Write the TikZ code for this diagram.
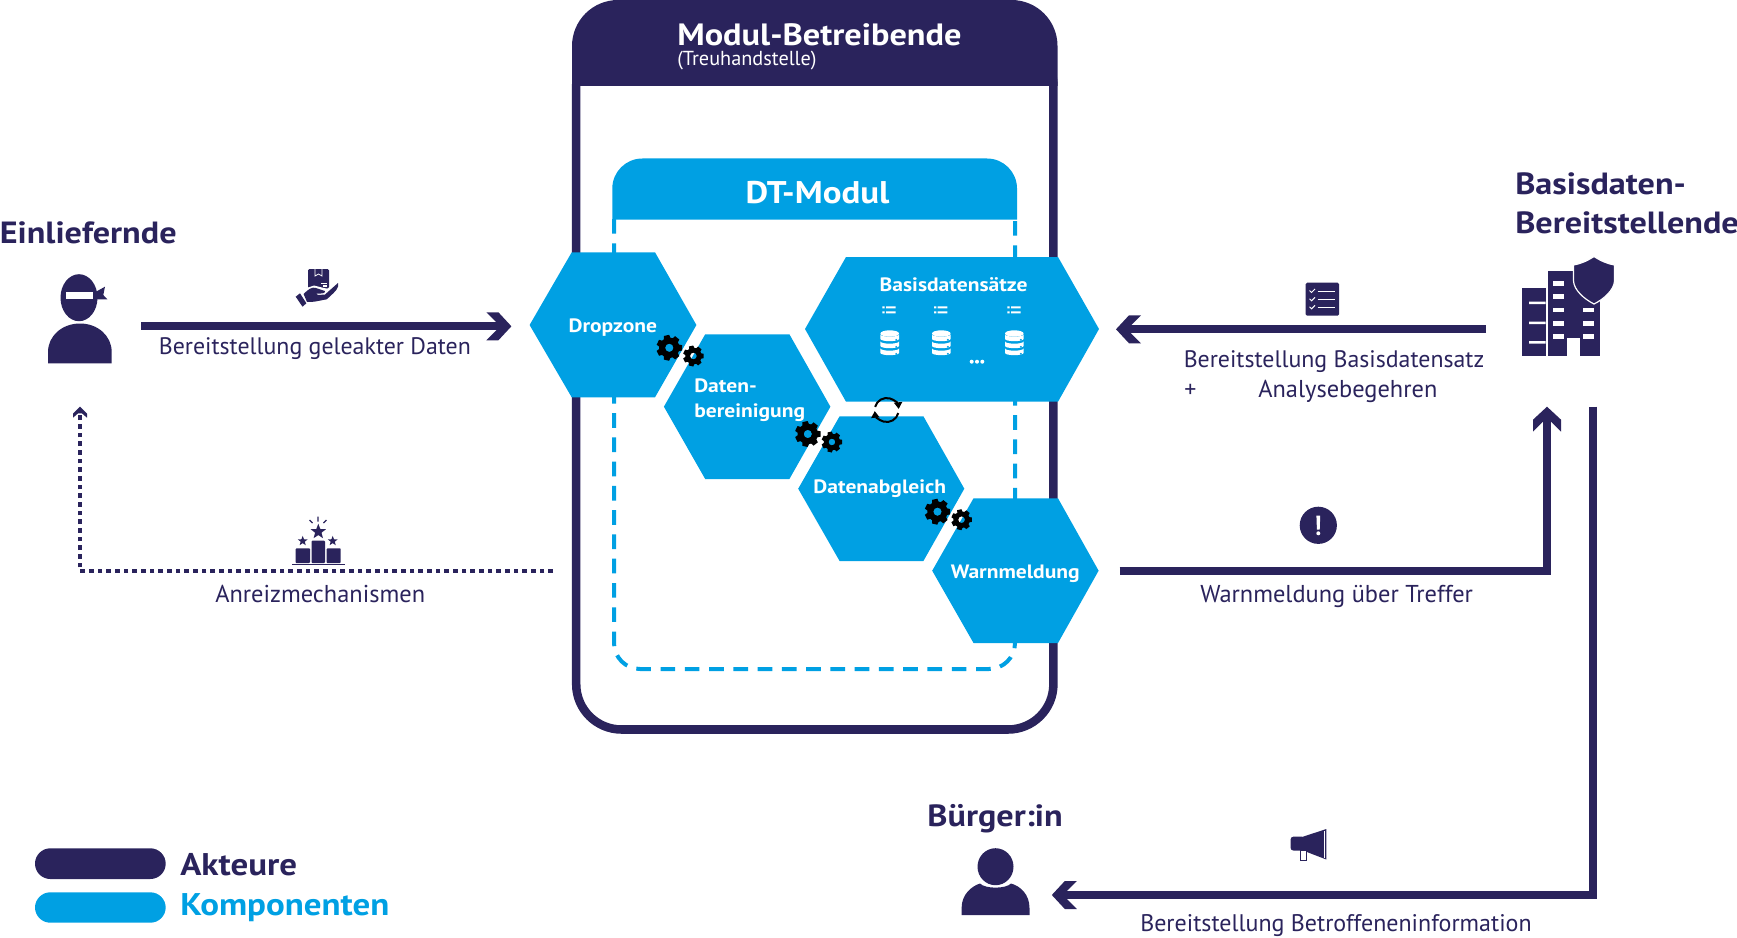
\documentclass[tikz,border=0pt]{standalone}
\usepackage{fontspec}
\setmainfont{PT Sans}[BoldFeatures={FakeStretch=1.115}]
\usetikzlibrary{arrows.meta}
\definecolor{navy}{HTML}{2A235C}
\definecolor{cyanb}{HTML}{00A0E3}
\pgfdeclarearrow{name=ChevBig,
  setup code={\pgfarrowssettipend{0pt}\pgfarrowssetbackend{-18.75pt}\pgfarrowssetlineend{-10.5pt}\pgfarrowssetvisualbackend{-10.5pt}},
  drawing code={\pgfpathmoveto{\pgfqpoint{0pt}{0pt}}\pgfpathlineto{\pgfqpoint{-9.75pt}{10.5pt}}\pgfpathlineto{\pgfqpoint{-18.75pt}{10.5pt}}\pgfpathlineto{\pgfqpoint{-11.25pt}{3pt}}\pgfpathlineto{\pgfqpoint{-11.25pt}{-3pt}}\pgfpathlineto{\pgfqpoint{-18.75pt}{-10.5pt}}\pgfpathlineto{\pgfqpoint{-9.75pt}{-10.5pt}}\pgfpathclose\pgfusepathqfill}}
\pgfdeclarearrow{name=ChevSmall,
  setup code={\pgfarrowssettipend{0pt}\pgfarrowssetbackend{-8.25pt}\pgfarrowssetlineend{-4.5pt}\pgfarrowssetvisualbackend{-4.5pt}},
  drawing code={\pgfpathmoveto{\pgfqpoint{0pt}{0pt}}\pgfpathlineto{\pgfqpoint{-5.25pt}{5.25pt}}\pgfpathlineto{\pgfqpoint{-8.25pt}{5.25pt}}\pgfpathlineto{\pgfqpoint{-5pt}{1.5pt}}\pgfpathlineto{\pgfqpoint{-5pt}{-1.5pt}}\pgfpathlineto{\pgfqpoint{-8.25pt}{-5.25pt}}\pgfpathlineto{\pgfqpoint{-5.25pt}{-5.25pt}}\pgfpathclose\pgfusepathqfill}}
\tikzset{
  lbl/.style={anchor=base west,inner sep=0pt,text=navy,font=\fontsize{17.9}{18}\selectfont},
  lblwide/.style={lbl,font=\fontsize{18.3}{18}\selectfont},
  actor/.style={anchor=base west,inner sep=0pt,text=navy,font=\fontsize{23}{23}\selectfont\bfseries},
  legendlbl/.style={actor,font=\fontsize{23.5}{23}\selectfont\bfseries},
  hexlbl/.style={anchor=base west,inner sep=0pt,text=white,font=\fontsize{14.5}{14.5}\selectfont\bfseries},
  flow/.style={color=navy,line width=6pt,line join=miter,-{ChevBig}},
  incentive/.style={color=navy,line width=3pt,dash pattern=on 3.6pt off 2.9pt,-{ChevSmall}},
  dtborder/.style={draw=cyanb,line width=3pt,dash pattern=on 11pt off 7.2pt},
}
% hexagon: name, left tip x, inner left x, inner right x, right tip x, top y, mid y, bottom y
\newcommand{\hexa}[8]{\fill[cyanb] (#2,#7) -- (#3,#6) -- (#4,#6) -- (#5,#7) -- (#4,#8) -- (#3,#8) -- cycle;\coordinate (#1) at (#3,#7);}
\newcommand{\gearicon}[3]{\begin{scope}[shift={(#1,#2)}]\fill[black,even odd rule] (-12:#3) \foreach \k [evaluate=\k as \a using \k*51.43] in {0,...,6}{ -- ({\a+12}:#3) -- ({\a+19}:{0.78*#3}) -- ({\a+51.43-19}:{0.78*#3}) -- ({\a+51.43-12}:#3)} -- cycle (0,0) circle[radius={0.32*#3}];\end{scope}}
\newcommand{\dband}[1]{(-9.3,#1) -- (-9.3,#1+4.5) .. controls (-9.3,#1+7.5) and (9.3,#1+7.5) .. (9.3,#1+4.5) -- (9.3,#1) .. controls (9.3,#1+3) and (-9.3,#1+3) .. cycle}
\newcommand{\dbicon}[2]{\begin{scope}[shift={(#1,#2)}]\fill[white] (0,-8.5) ellipse[x radius=9.3,y radius=3.2]; \fill[white] \dband{-7.6}; \fill[white] \dband{-0.6}; \fill[white] \dband{6.4};\fill[cyanb] (6.5,-2.2) circle[radius=1] (6.5,4.8) circle[radius=1] (6.5,11.8) circle[radius=1];\end{scope}}
\newcommand{\listicon}[2]{\begin{scope}[shift={(#1,#2)}]\fill[white] (-6.6,-3.6) rectangle (-4.4,-1.6) (-6.6,1.4) rectangle (-4.4,3.4) (-3,-3.6) rectangle (6.6,-1.6) (-3,1.4) rectangle (6.6,3.4);\end{scope}}
\begin{document}
\begin{tikzpicture}[x=.75pt,y=-.75pt]
\useasboundingbox (0,0) rectangle (1737,938);
% Modul-Betreibende frame
\draw[navy,line width=6.4pt,rounded corners=34pt] (576.2,40) rectangle (1053.4,729.5);
\fill[navy] (572,86) -- (572,46) arc[start angle=180,end angle=270,radius=46] -- (1011.5,0) arc[start angle=-90,end angle=0,radius=46] -- (1057.5,86) -- cycle;
\node[anchor=base west,inner sep=0pt,text=white,font=\fontsize{23.1}{23}\selectfont\bfseries] (modtitle) at (677,45.5) {Modul-Betreibende};
\node[anchor=base west,inner sep=0pt,text=white,font=\fontsize{15.2}{15}\selectfont] (modsub) at (677,65.5) {(Treuhandstelle)};
% DT-Modul
\draw[dtborder] (614,219) -- (614,643) arc[start angle=180,end angle=90,radius=26] -- (989,669) arc[start angle=90,end angle=0,radius=26] -- (1015,219);
\fill[cyanb] (612.3,219.5) -- (612.3,188.5) arc[start angle=180,end angle=270,radius=30] -- (987,158.5) arc[start angle=-90,end angle=0,radius=30] -- (1017,219.5) -- cycle;
\node[anchor=base,inner sep=0pt,text=white,font=\fontsize{23.5}{24}\selectfont\bfseries] (dttitle) at (817.5,203) {DT-Modul};
% hexagons
\hexa{hdrop}{529.6}{571.7}{655}{696.4}{252.3}{325}{397.3}
\hexa{hclean}{663.9}{705.2}{789.4}{830.4}{334.3}{406.7}{479}
\hexa{hmatch}{798.2}{839.6}{923.4}{964.3}{416.3}{488.7}{561}
\hexa{hwarn}{932.2}{973.5}{1058}{1098.6}{498.3}{570.7}{643}
\hexa{hbase}{805}{846}{1058}{1099}{257}{329}{401.7}
\node[hexlbl] (tdrop) at (568.3,332.7) {Dropzone};
\node[hexlbl] (tclean1) at (694,392.7) {Daten-};
\node[hexlbl] (tclean2) at (694,417.3) {bereinigung};
\node[hexlbl] (tmatch) at (813.2,493.3) {Datenabgleich};
\node[hexlbl] (twarn) at (950.7,578.3) {Warnmeldung};
\node[hexlbl] (tbase) at (879.4,291.7) {Basisdatensätze};
% data set icons
\listicon{889}{310}\listicon{940.7}{310}\listicon{1014}{310}
\dbicon{889.7}{342}\dbicon{941.3}{342}\dbicon{1014.3}{342}
\fill[white] (971.7,361.7) circle[radius=2] (977,361.7) circle[radius=2] (982.3,361.7) circle[radius=2];
% gears
\gearicon{669.3}{347.8}{13}\gearicon{693.4}{356}{10.5}
\gearicon{807.8}{434}{13}\gearicon{831.9}{442}{10.5}
\gearicon{937.5}{511.7}{13}\gearicon{961.6}{519.7}{10.5}
% refresh
\draw[black,line width=1.5pt,-{Triangle[length=5pt,width=6pt]}] ([shift={(-165:12)}]886.7,410) arc[start angle=-165,end angle=-5,radius=12];
\draw[black,line width=1.5pt,-{Triangle[length=5pt,width=6pt]}] ([shift={(15:12)}]886.7,410) arc[start angle=15,end angle=175,radius=12];
% actors
\node[actor] (einl) at (-.5,243.8) {Einliefernde};
\node[actor] (basis1) at (1515,194.8) {Basisdaten-};
\node[actor] (basis2) at (1515,233.8) {Bereitstellende};
\node[actor] (buerger) at (927.2,826) {Bürger:in};
% ninja icon
\fill[navy] (48,363.3) -- (48,352) .. controls (48,336) and (62,323.5) .. (80,323.5) .. controls (98,323.5) and (111.7,336) .. (111.7,352) -- (111.7,363.3) -- cycle;
\fill[navy] (79,297.7) ellipse[x radius=18.5,y radius=23.5];
\fill[navy] (96,291.7) -- (105,286.7) -- (103.3,295) -- (107.3,299.3) -- (96,299.3) -- cycle;
\fill[white] (65.7,292.3) rectangle (93.3,299.3);
% citizen icon
\fill[navy] (961.6,915) -- (961.6,908) .. controls (961.6,894) and (972,886) .. (980,883.5) .. controls (985,889) and (1006,889) .. (1011,883.5) .. controls (1020,886) and (1029.5,894) .. (1029.5,908) -- (1029.5,915) -- cycle;
\fill[navy] (995.5,866.7) ellipse[x radius=18,y radius=18.5];
% building icon
\fill[navy] (1521.7,288.3) rectangle (1545.7,355.7);
\fill[navy] (1547.7,270.7) rectangle (1600,355.7);
\fill[white] (1529,301.5) rectangle (1545.7,304) (1529,321.5) rectangle (1545.7,324) (1529,341) rectangle (1545.7,343.5);
\fill[white] (1567.3,338.3) rectangle (1580,355.8);
\foreach \wy in {283.3,296.7,310,323.3,336.7}{\fill[white] (1553.3,\wy-2.3) rectangle (1564,\wy+2.3);}
\foreach \wy in {310,323.3,336.7}{\fill[white] (1583.3,\wy-2.3) rectangle (1594,\wy+2.3);}
\filldraw[fill=navy,draw=white,line width=.9pt] (1594,256.5) .. controls (1601,261) and (1608,264) .. (1614.5,265) -- (1614.5,281) .. controls (1614,290) and (1604,299) .. (1594,304) .. controls (1584,299) and (1574,290) .. (1573.5,281) -- (1573.5,265) .. controls (1580,264) and (1587,261) .. (1594,256.5) -- cycle;
% flow: leaked data
\coordinate (c1a) at (141.4,326.3); \coordinate (c1b) at (511.4,326.3);
\draw[flow] (c1a) -- (c1b);
\node[lbl] (l1) at (158.6,354) {Bereitstellung geleakter Daten};
% hand icon
\fill[navy,rounded corners=1pt] (308,269) rectangle (329,288.5);
\draw[white,line width=.6pt] (315,269) -- (315,276) -- (318.5,274) -- (322,276) -- (322,269);
\draw[white,line width=.8pt] (321,283.5) -- (327,283.5) (323,286) -- (327,286);
\fill[white] (305,288.5) -- (314,285.5) -- (326,288.5) -- (330,288.5) -- (330,291) -- (305,294) -- cycle;
\fill[navy] (303.6,294) .. controls (308,289.5) and (312,286.5) .. (316,288) -- (325,291) .. controls (326,293) and (322,294) .. (316,293.5) -- (318,295) -- (325,294.5) -- (338,283) .. controls (339,288) and (337,290) .. (326.8,299.3) -- (314.3,301.7) -- (307,302) -- cycle;
\fill[navy] (295.7,296.7) -- (300,293.3) -- (306.4,303.3) -- (302.5,306.7) -- cycle;
% flow: incentive
\coordinate (c2a) at (553,571); \coordinate (c2m) at (80,571); \coordinate (c2b) at (80,406.7);
\draw[incentive] (c2a) -- (c2m) -- (c2b);
\node[lblwide] (l2) at (215,602.7) {Anreizmechanismen};
% podium icon
\fill[navy,rounded corners=.6pt] (295.7,548.3) rectangle (310,563) (311.7,540.7) rectangle (325,563) (326.7,548.3) rectangle (340.7,563);
\fill[navy] (291.7,563.7) rectangle (345,565);
\foreach \sx/\sy/\sr in {318.3/531.7/8,302.7/541/5.2,332.7/541/5.2}{\fill[navy] (\sx,\sy) +(-90:\sr) -- +(-54:0.42*\sr) -- +(-18:\sr) -- +(18:0.42*\sr) -- +(54:\sr) -- +(90:0.42*\sr) -- +(126:\sr) -- +(162:0.42*\sr) -- +(198:\sr) -- +(234:0.42*\sr) -- cycle;}
\draw[navy,line width=.9pt] (318,516.5) -- (318,521.5) (309.5,520) -- (312.5,523) (326.5,520) -- (323.5,523);
% flow: base data
\coordinate (c3a) at (1486,329.3); \coordinate (c3b) at (1116,329.3);
\draw[flow] (c3a) -- (c3b);
\node[lbl] (l3a) at (1183.5,367.7) {Bereitstellung Basisdatensatz};
\node[lbl] (l3p) at (1184,397.7) {+};
\node[lblwide] (l3b) at (1258,397.7) {Analysebegehren};
% checklist icon
\fill[navy,rounded corners=1pt] (1305.7,282.7) rectangle (1339,315.7);
\foreach \ly in {291,299.3,307.3}{\draw[white,line width=.75pt] (1317.5,\ly) -- (1335,\ly);\draw[white,line width=.75pt] (1309.5,\ly-.5) -- (1311.5,\ly+1.5) -- (1315,\ly-2);}
% flow: warning
\coordinate (c4a) at (1119.5,571.3); \coordinate (c4m) at (1547,571.3); \coordinate (c4b) at (1547,406.7);
\draw[flow] (c4a) -- (c4m) -- (c4b);
\node[lblwide] (l4) at (1200,602.7) {Warnmeldung über Treffer};
\fill[navy] (1318.3,525.3) circle[radius=18.6];
\fill[white] (1316.4,515.5) -- (1320.2,515.5) -- (1319.7,529.5) -- (1316.9,529.5) -- cycle (1318.3,533.3) circle[radius=2];
% flow: citizen information
\coordinate (c5a) at (1593,406.7); \coordinate (c5m) at (1593,895); \coordinate (c5b) at (1051.8,895);
\draw[flow] (c5a) -- (c5m) -- (c5b);
\node[lbl,font=\fontsize{18}{18}\selectfont] (l5) at (1140,931) {Bereitstellung Betroffeneninformation};
% megaphone icon
\fill[navy,rounded corners=2pt] (1290.6,836.7) rectangle (1305,850.5);
\fill[navy] (1303,836.7) -- (1326.3,829) -- (1326.3,859.5) -- (1303,850.5) -- cycle;
\draw[white,line width=.5pt] (1324.3,831) -- (1324.3,857.5);
\draw[navy,line width=1pt,fill=white] (1300.8,850.5) rectangle (1306.7,860.8);
% legend
\fill[navy,rounded corners=11.5pt] (35,848.3) rectangle (165.7,879);
\fill[cyanb,rounded corners=11.5pt] (35,892.3) rectangle (165.7,922.7);
\node[legendlbl] (lega) at (180,875) {Akteure};
\node[legendlbl,text=cyanb] (legk) at (180,915.3) {Komponenten};
\end{tikzpicture}
\end{document}
